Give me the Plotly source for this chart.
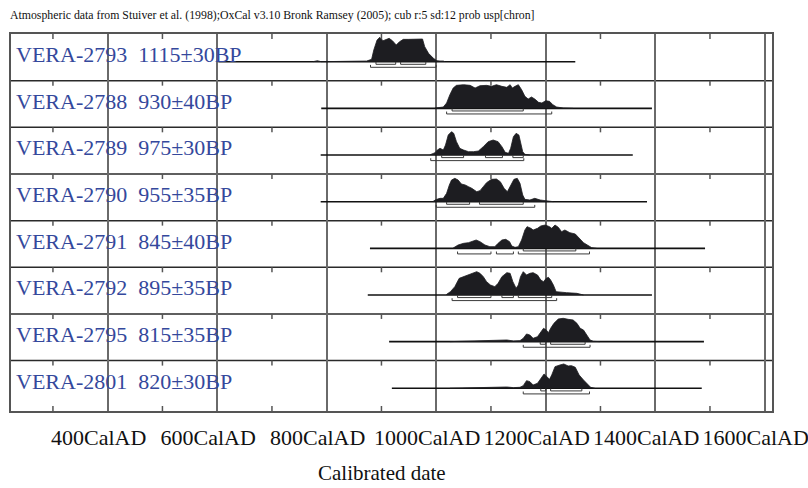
import plotly.graph_objects as go

# ---------------- data ----------------
TITLE = ("Atmospheric data from Stuiver et al. (1998);OxCal v3.10 Bronk Ramsey (2005); "
         "cub r:5 sd:12 prob usp[chron]")
X_AXIS_TITLE = "Calibrated date"

SAMPLE_LABELS = [
    "VERA-2793  1115±30BP",
    "VERA-2788  930±40BP",
    "VERA-2789  975±30BP",
    "VERA-2790  955±35BP",
    "VERA-2791  845±40BP",
    "VERA-2792  895±35BP",
    "VERA-2795  815±35BP",
    "VERA-2801  820±30BP",
]

X_TICKS = [400, 600, 800, 1000, 1200, 1400, 1600]
X_TICK_TEXT = ["400CalAD", "600CalAD", "800CalAD", "1000CalAD",
               "1200CalAD", "1400CalAD", "1600CalAD"]
MINOR_TICKS = [300, 500, 700, 900, 1100, 1300, 1500]

# extent of the plotted calibration range (years AD) for every sample
LINE_START = [602, 790, 789, 789, 879, 875, 914, 919]
LINE_END = [1254, 1394, 1359, 1385, 1491, 1394, 1489, 1485]

# probability distributions (years AD, relative probability)
R1_YEARS = [775, 783, 790, 830, 836, 842, 873, 882, 886, 892, 897, 903, 909, 914, 920, 927, 933,
            940, 949, 958, 967, 975, 979, 986, 995, 1001, 1007, 1010, 1013, 1016]
R1_PROB = [0, 3, 0, 0, 1, 0, 2, 7, 35, 65, 73, 63, 67, 70, 63, 50, 60,
           67, 67, 67, 68, 68, 45, 25, 10, 3, 2, 3, 2, 0]

R2_YEARS = [998, 1013, 1019, 1025, 1031, 1037, 1050, 1062, 1071, 1080, 1092, 1101, 1110, 1120,
            1129, 1135, 1139, 1144, 1150, 1156, 1162, 1168, 1174, 1180, 1187, 1193, 1200, 1207,
            1213, 1220, 1232, 1250]
R2_PROB = [1, 4, 16, 41, 61, 69, 71, 69, 61, 68, 69, 66, 71, 66,
           63, 71, 61, 66, 71, 56, 36, 28, 34, 28, 18, 16, 23, 21,
           11, 4, 1, 0]

R3_YEARS = [989, 998, 1002, 1007, 1013, 1017, 1022, 1028, 1032, 1037, 1043, 1050, 1059, 1068,
            1077, 1086, 1095, 1104, 1113, 1120, 1126, 1132, 1136, 1141, 1146, 1151, 1154, 1158,
            1162, 1171]
R3_PROB = [1, 7, 15, 20, 15, 30, 60, 70, 65, 40, 20, 15, 10, 10,
           12, 25, 40, 45, 40, 25, 8, 5, 20, 55, 65, 60, 35, 10,
           2, 0]

R4_YEARS = [995, 1001, 1007, 1013, 1019, 1024, 1028, 1034, 1040, 1046, 1053, 1059, 1065, 1074,
            1080, 1086, 1092, 1101, 1110, 1117, 1124, 1130, 1136, 1142, 1148, 1153, 1158, 1162,
            1171, 1180, 1190, 1202, 1214]
R4_PROB = [2, 7, 10, 10, 25, 50, 65, 70, 65, 53, 50, 45, 40, 30,
           33, 45, 57, 67, 68, 60, 40, 30, 50, 67, 70, 55, 20, 7,
           5, 10, 5, 2, 0]

R5_YEARS = [1031, 1040, 1050, 1059, 1068, 1073, 1080, 1089, 1098, 1107, 1113, 1120, 1127, 1134,
            1138, 1144, 1150, 1156, 1162, 1166, 1173, 1177, 1185, 1191, 1199, 1207, 1211, 1217,
            1223, 1229, 1235, 1244, 1254, 1261, 1269, 1276, 1284, 1293]
R5_PROB = [1, 10, 15, 17, 23, 25, 20, 10, 5, 5, 15, 25, 27, 20,
           7, 3, 5, 25, 55, 65, 60, 55, 60, 67, 70, 65, 60, 70,
           63, 50, 55, 47, 43, 30, 17, 10, 2, 0]

R6_YEARS = [1019, 1026, 1034, 1042, 1050, 1059, 1068, 1074, 1080, 1086, 1092, 1099, 1107, 1113,
            1120, 1129, 1135, 1140, 1146, 1150, 1154, 1159, 1165, 1171, 1177, 1185, 1191, 1196,
            1201, 1205, 1209, 1214, 1219, 1229, 1238, 1257, 1269]
R6_PROB = [2, 10, 25, 50, 55, 60, 67, 70, 65, 55, 40, 30, 25, 35,
           55, 67, 65, 40, 20, 30, 55, 70, 60, 65, 67, 60, 45, 40,
           50, 53, 45, 30, 10, 8, 7, 5, 0]

R7_YEARS = [1025, 1056, 1086, 1117, 1129, 1141, 1153, 1159, 1165, 1171, 1177, 1185, 1191, 1196,
            1201, 1205, 1209, 1215, 1223, 1232, 1241, 1250, 1257, 1263, 1269, 1275, 1281, 1287,
            1299]
R7_PROB = [0, 1, 2, 3, 5, 2, 3, 10, 23, 20, 10, 15, 30, 40,
           35, 27, 40, 55, 68, 70, 67, 65, 55, 40, 35, 20, 5, 1,
           0]

R8_YEARS = [1025, 1068, 1104, 1129, 1141, 1153, 1159, 1165, 1171, 1177, 1185, 1191, 1197, 1202,
            1207, 1211, 1217, 1226, 1233, 1241, 1247, 1254, 1261, 1269, 1276, 1282, 1290]
R8_PROB = [0, 1, 2, 4, 2, 3, 8, 23, 20, 10, 15, 30, 43, 35,
           27, 40, 65, 70, 73, 67, 68, 63, 40, 25, 13, 3, 0]

YEARS = [R1_YEARS, R2_YEARS, R3_YEARS, R4_YEARS, R5_YEARS, R6_YEARS, R7_YEARS, R8_YEARS]
PROBS = [R1_PROB, R2_PROB, R3_PROB, R4_PROB, R5_PROB, R6_PROB, R7_PROB, R8_PROB]

# 68.2% (1 sigma) and 95.4% (2 sigma) ranges
SIGMA1 = [
    [(890, 926), (935, 981)],
    [(1029, 1159)],
    [(1010, 1050), (1090, 1121), (1140, 1159)],
    [(1019, 1061), (1079, 1159)],
    [(1159, 1255)],
    [(1039, 1100), (1120, 1141), (1150, 1211)],
    [(1190, 1200), (1209, 1272)],
    [(1191, 1200), (1209, 1266)],
]
SIGMA2 = [
    [(880, 1000)],
    [(1019, 1211)],
    [(990, 1160)],
    [(1000, 1180)],
    [(1039, 1100), (1110, 1141), (1150, 1280)],
    [(1029, 1220)],
    [(1159, 1281)],
    [(1159, 1280)],
]

# ---------------- layout geometry ----------------
W, H = 808, 488
M_L, M_R, M_T, M_B = 11, 36, 34, 77
X_RANGE = [223.4, 1613.3]
N = len(SAMPLE_LABELS)
Y_BOTTOM = -0.08
Y_RANGE = [Y_BOTTOM, N]
PX = (H - M_T - M_B) / (Y_RANGE[1] - Y_RANGE[0])  # pixels per y unit

BASE_OFFSET = 27.7 / PX       # baseline below row top
PROB_SCALE = (1 / 3) / PX     # one probability unit = 1/3 px
S1_DY, S2_DY, TICK_DY = 2.6 / PX, 5.6 / PX, 2.4 / PX

FILL = "#1d1d21"
LABEL_BLUE = "#34489c"
FONT = "Liberation Serif, Times New Roman, serif"

fig = go.Figure()

for i in range(N):
    top = N - i
    base = top - BASE_OFFSET
    # baseline
    fig.add_trace(go.Scatter(x=[LINE_START[i], LINE_END[i]], y=[base, base], mode="lines",
                             line=dict(color="#111111", width=1.6), hoverinfo="skip",
                             showlegend=False))
    # distribution
    xs = [YEARS[i][0]] + YEARS[i] + [YEARS[i][-1]]
    ys = [base] + [base + p * PROB_SCALE for p in PROBS[i]] + [base]
    fig.add_trace(go.Scatter(x=xs, y=ys, mode="lines", fill="toself", fillcolor=FILL,
                             line=dict(color=FILL, width=0.8), hoverinfo="skip",
                             showlegend=False))
    # range brackets
    for ranges, dy in ((SIGMA1[i], S1_DY), (SIGMA2[i], S2_DY)):
        bx, by = [], []
        yl = base - dy
        for a, b in ranges:
            bx += [a, a, b, b, None]
            by += [yl + TICK_DY, yl, yl, yl + TICK_DY, None]
        fig.add_trace(go.Scatter(x=bx, y=by, mode="lines",
                                 line=dict(color="#3a3a3a", width=1), hoverinfo="skip",
                                 showlegend=False))

shapes = []
# row separators
for k in range(1, N):
    shapes.append(dict(type="line", xref="paper", x0=0, x1=1, yref="y", y0=k, y1=k,
                       line=dict(color="#2a2a2a", width=1.5), layer="below"))
# minor ticks at each row top (downwards) and bottom frame (upwards)
for t in MINOR_TICKS:
    for k in range(1, N + 1):
        shapes.append(dict(type="line", xref="x", x0=t, x1=t, yref="y",
                           y0=k, y1=k - 5 / PX, line=dict(color="#555555", width=1.5)))
    shapes.append(dict(type="line", xref="x", x0=t, x1=t, yref="y",
                       y0=Y_BOTTOM, y1=Y_BOTTOM + 5 / PX, line=dict(color="#555555", width=1.5)))

annotations = []
for i, lab in enumerate(SAMPLE_LABELS):
    top = N - i
    annotations.append(dict(text=lab, xref="paper", x=0, xshift=3, xanchor="left",
                            yref="y", y=top - 20.5 / PX, yanchor="middle", showarrow=False,
                            font=dict(family=FONT, size=22, color=LABEL_BLUE)))
annotations.append(dict(text=TITLE, xref="paper", x=0, xanchor="left", xshift=-3,
                        yref="paper", y=1, yshift=10, yanchor="bottom", showarrow=False,
                        font=dict(family=FONT, size=11.8, color="#111111")))
annotations.append(dict(text=X_AXIS_TITLE, xref="paper", x=0.4875, xanchor="center",
                        yref="paper", y=0, yshift=-62, yanchor="middle", showarrow=False,
                        font=dict(family=FONT, size=21, color="#111111")))

fig.update_layout(
    width=W, height=H,
    margin=dict(l=M_L, r=M_R, t=M_T, b=M_B, autoexpand=False),
    paper_bgcolor="white", plot_bgcolor="white",
    shapes=shapes, annotations=annotations,
    showlegend=False,
    xaxis=dict(range=X_RANGE, tickmode="array", tickvals=X_TICKS, ticktext=X_TICK_TEXT,
               showgrid=True, gridcolor="#6a6a6a", gridwidth=1.5, zeroline=False,
               showline=True, mirror=True, linecolor="#555555", linewidth=1.5,
               ticks="", tickangle=0, automargin=False, ticklabeloverflow="allow",
               ticklabelshift=-9, ticklabelstandoff=6,
               tickfont=dict(family=FONT, size=22, color="#111111")),
    yaxis=dict(range=Y_RANGE, showgrid=False, zeroline=False, showticklabels=False,
               automargin=False,
               showline=True, mirror=True, linecolor="#555555", linewidth=1.5, ticks=""),
)

fig.write_html("out.html", config={"displayModeBar": False},
               post_script="document.body.style.margin='0';document.body.style.overflow='hidden';")
